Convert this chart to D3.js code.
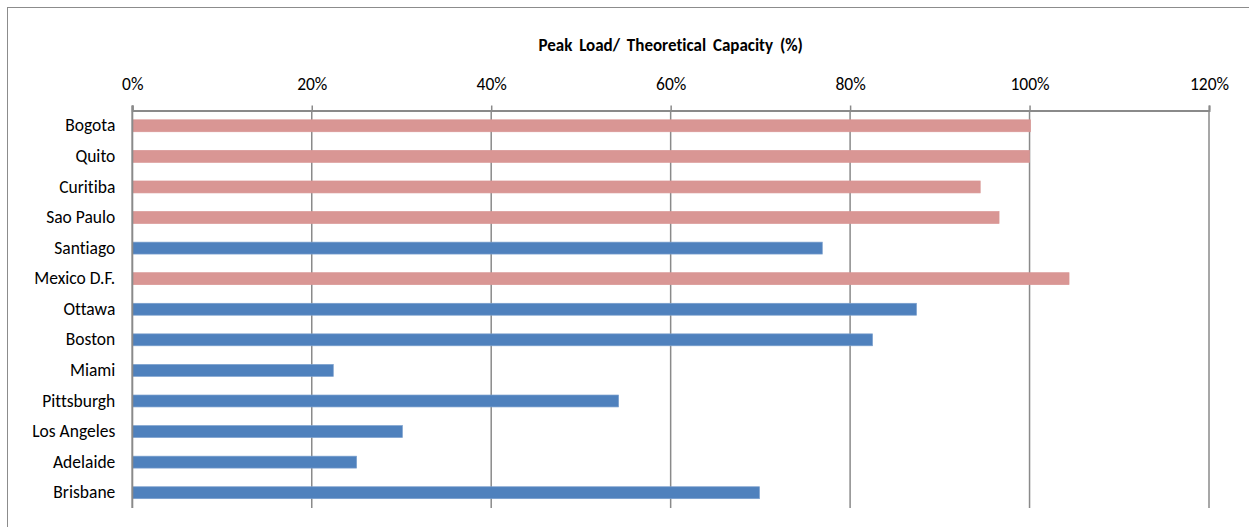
<!DOCTYPE html>
<html>
<head>
<meta charset="utf-8">
<script src="https://cdn.jsdelivr.net/npm/d3@7"></script>
<style>
  html, body { margin: 0; padding: 0; background: #fff; }
  svg { display: block; font-family: Carlito, Lato, "Open Sans", sans-serif; font-variant-ligatures: none; }
</style>
</head>
<body>
<svg id="chart" width="1249" height="527"></svg>
<script>
// Cities, top to bottom
const cities = ["Bogota", "Quito", "Curitiba", "Sao Paulo", "Santiago", "Mexico D.F.",
  "Ottawa", "Boston", "Miami", "Pittsburgh", "Los Angeles", "Adelaide", "Brisbane"];
// Peak load as a share of theoretical capacity (%)
const loadPct = [100.1, 100.0, 94.5, 96.6, 76.9, 104.4, 87.4, 82.5, 22.4, 54.2, 30.1, 25.0, 69.9];
// Group of each city: pink vs blue bars
const groups = ["a", "a", "a", "a", "b", "a", "b", "b", "b", "b", "b", "b", "b"];
const tickValues = [0, 20, 40, 60, 80, 100, 120];
const title = "Peak Load/ Theoretical Capacity (%)";

const colors = { a: "#D99694", b: "#4F81BD" };
const strokes = { a: "#D99694", b: "#7BA0CD" };
const FONT = "Carlito, Lato, 'Open Sans', sans-serif";
const FS = 17.5;

const svg = d3.select("#chart");
const W = 1249, H = 527;
const plot = { left: 132.3, right: 1209, top: 110.5, bottom: 508 };

// outer chart frame
svg.append("rect")
  .attr("x", 7.5).attr("y", 7.5)
  .attr("width", W + 10).attr("height", H + 10)
  .attr("fill", "none").attr("stroke", "#8c8c8c").attr("stroke-width", 1);

const x = d3.scaleLinear().domain([0, 120]).range([plot.left, plot.right]);
const y = d3.scaleBand().domain(cities).range([plot.top, plot.bottom]).paddingInner(0.61).paddingOuter(0.305);

// vertical gridlines
svg.append("g").selectAll("line")
  .data(tickValues.slice(1))
  .join("line")
  .attr("x1", d => x(d)).attr("x2", d => x(d))
  .attr("y1", plot.top).attr("y2", plot.bottom)
  .attr("stroke", "#8a8a8a").attr("stroke-width", 1.5);

// bars
svg.append("g").selectAll("rect")
  .data(cities)
  .join("rect")
  .attr("x", x(0))
  .attr("y", d => y(d))
  .attr("width", (d, i) => x(loadPct[i]) - x(0))
  .attr("height", y.bandwidth())
  .attr("fill", (d, i) => colors[groups[i]])
  .attr("stroke", (d, i) => strokes[groups[i]])
  .attr("stroke-width", 0.7);

// top value axis
const xAxis = d3.axisTop(x)
  .tickValues(tickValues)
  .tickFormat(d => d + "%")
  .tickSize(5)
  .tickPadding(16);
const gx = svg.append("g").attr("transform", `translate(0,${plot.top})`).call(xAxis);
gx.select(".domain").attr("stroke", "#8a8a8a").attr("stroke-width", 2);
gx.selectAll(".tick line").attr("stroke", "#8a8a8a").attr("stroke-width", 1.5);
gx.selectAll(".tick text").attr("font-size", FS).attr("fill", "#000").style("font-family", FONT);

// left category axis
const yAxis = d3.axisLeft(y).tickSize(0).tickPadding(17);
const gy = svg.append("g").attr("transform", `translate(${plot.left},0)`).call(yAxis);
gy.select(".domain").remove();
gy.selectAll(".tick text").attr("font-size", FS).attr("fill", "#000").style("font-family", FONT);
svg.append("line")
  .attr("x1", plot.left).attr("x2", plot.left)
  .attr("y1", plot.top - 5).attr("y2", plot.bottom)
  .attr("stroke", "#8a8a8a").attr("stroke-width", 2);

// axis title
svg.append("text")
  .attr("x", (plot.left + plot.right) / 2)
  .attr("y", 51)
  .attr("text-anchor", "middle")
  .attr("font-size", 17)
  .attr("font-weight", "bold")
  .attr("word-spacing", 3)
  .attr("fill", "#000")
  .text(title);
</script>
</body>
</html>
